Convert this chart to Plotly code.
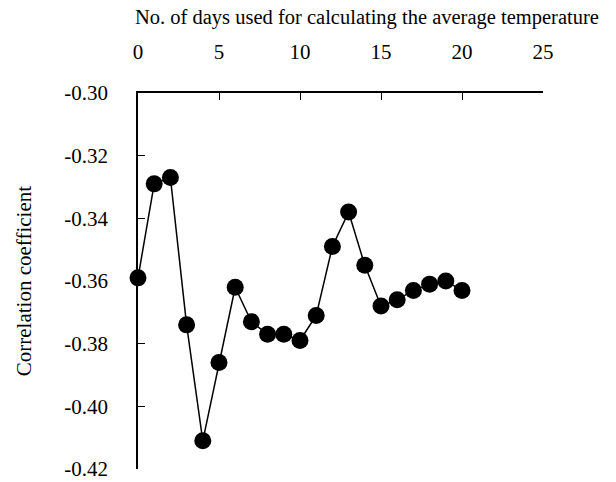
import plotly.graph_objects as go

days = list(range(21))
corr = [-0.359, -0.329, -0.327, -0.374, -0.411, -0.386, -0.362, -0.373, -0.377, -0.377,
        -0.379, -0.371, -0.349, -0.338, -0.355, -0.368, -0.366, -0.363, -0.361, -0.360,
        -0.363]

x_ticks = [0, 5, 10, 15, 20, 25]
y_ticks = [-0.30, -0.32, -0.34, -0.36, -0.38, -0.40, -0.42]
y_ticktext = ["%.2f" % v for v in y_ticks]

x_title = "No. of days used for calculating the average temperature"
y_title = "Correlation coefficient"

font = dict(family="Liberation Serif", size=21, color="black")
title_font = dict(family="Liberation Serif", size=20.5, color="black")

fig = go.Figure()
fig.add_trace(
    go.Scatter(
        x=days,
        y=corr,
        mode="lines+markers",
        line=dict(color="black", width=1.5),
        marker=dict(color="black", size=17),
        cliponaxis=False,
        showlegend=False,
    )
)

# axis titles as annotations so they can sit where the original has them
fig.add_annotation(
    text=x_title, xref="paper", yref="paper", x=0.566, y=1.2,
    xanchor="center", yanchor="middle", showarrow=False, font=title_font,
    borderpad=0,
)
fig.add_annotation(
    text=y_title, xref="paper", yref="paper", x=-0.281, y=0.5,
    xanchor="center", yanchor="middle", textangle=-90, showarrow=False, font=font,
    borderpad=0,
)

fig.update_layout(
    width=616,
    height=482,
    margin=dict(l=138, r=73, t=93, b=13, autoexpand=False),
    paper_bgcolor="white",
    plot_bgcolor="white",
    font=font,
    xaxis=dict(
        side="top",
        range=[0, 25],
        tickvals=x_ticks,
        ticks="inside",
        ticklen=7,
        tickcolor="black",
        tickfont=font,
        ticklabelstandoff=24,
        showline=True,
        linecolor="black",
        linewidth=1.5,
        showgrid=False,
        zeroline=False,
        automargin=False,
    ),
    yaxis=dict(
        range=[-0.42, -0.30],
        tickvals=y_ticks,
        ticktext=y_ticktext,
        ticks="inside",
        ticklen=7,
        tickcolor="black",
        tickfont=font,
        ticklabelstandoff=24,
        showline=True,
        linecolor="black",
        linewidth=1.5,
        showgrid=False,
        zeroline=False,
        automargin=False,
    ),
)

# drop the default 8px body margin so the figure fills the window exactly
fig.write_html(
    "out.html",
    config={"displayModeBar": False},
    post_script="document.body.style.margin='0';",
)
